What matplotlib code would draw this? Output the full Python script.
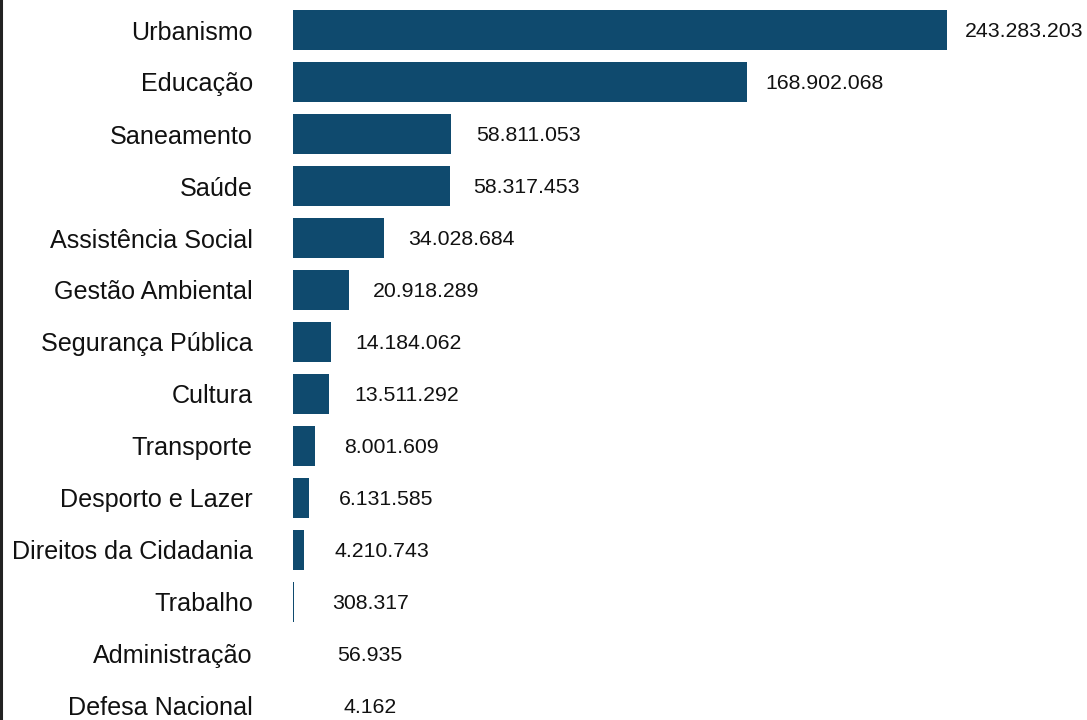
"""Despesas por função - barras horizontais."""

import matplotlib

matplotlib.use("Agg")

import matplotlib.pyplot as plt
from matplotlib.lines import Line2D

plt.rcParams["font.family"] = ["Liberation Sans", "DejaVu Sans"]

categories = [
    "Urbanismo",
    "Educação",
    "Saneamento",
    "Saúde",
    "Assistência Social",
    "Gestão Ambiental",
    "Segurança Pública",
    "Cultura",
    "Transporte",
    "Desporto e Lazer",
    "Direitos da Cidadania",
    "Trabalho",
    "Administração",
    "Defesa Nacional",
]
values = [
    243283203,
    168902068,
    58811053,
    58317453,
    34028684,
    20918289,
    14184062,
    13511292,
    8001609,
    6131585,
    4210743,
    308317,
    56935,
    4162,
]

BAR_COLOR = "#0f4a6e"


def fmt(v: int) -> str:
    return f"{v:,}".replace(",", ".")


def main() -> None:
    fig = plt.figure(figsize=(10.87, 7.2), dpi=100)
    ax = fig.add_axes([293 / 1087, 0, 1 - 293 / 1087, 1])

    pos = list(range(len(categories)))
    ax.barh(pos, values, height=0.77, color=BAR_COLOR)
    for y, v in zip(pos, values):
        ax.annotate(fmt(v), (v, y), xytext=(55.5, -0.8), textcoords="offset points",
                    ha="center", va="center", fontsize=15.3, color="#111111")

    xmax = values[0] * (1087 - 293) / 654
    ax.set_xlim(0, xmax)
    ax.set_ylim((720 - 30) / 52, -30 / 52)
    ax.set_yticks(pos)
    ax.set_yticklabels(categories, fontsize=18.1, color="#111111")
    ax.tick_params(axis="y", length=0, pad=29)
    ax.set_xticks([])
    for spine in ax.spines.values():
        spine.set_visible(False)

    fig.add_artist(Line2D([0.0012, 0.0012], [0, 1], color="#222222", linewidth=2.2,
                          transform=fig.transFigure))

    fig.savefig("out.png", dpi=100)
    plt.close(fig)


if __name__ == "__main__":
    main()
